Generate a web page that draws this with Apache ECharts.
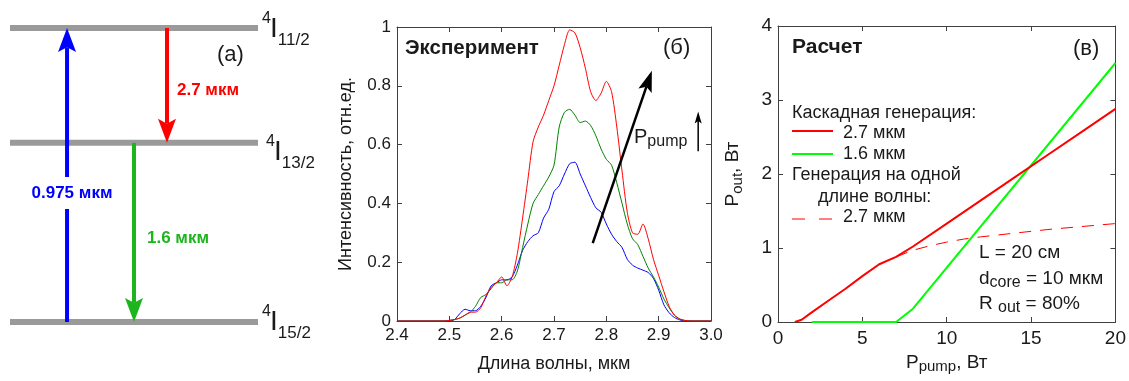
<!DOCTYPE html>
<html lang="ru">
<head>
<meta charset="UTF-8">
<title>Каскадная генерация 2.7 / 1.6 мкм</title>
<script src="https://cdn.jsdelivr.net/npm/echarts@6/dist/echarts.min.js"></script>
<style>
  * { margin: 0; padding: 0; }
  body { background: #fff; }
  #chart { width: 1129px; height: 381px; }
</style>
</head>
<body>
<div id="chart"></div>
<script>
// ---- (а) схема уровней, энергия в см^-1 ----
const levelNames = ['11/2', '13/2', '15/2'];
const levelEnergy = [10256, 6250, 0];
const transLabels = ['0.975 мкм', '2.7 мкм', '1.6 мкм'];
const transFrom = [0, 10256, 6250];
const transTo = [10256, 6250, 0];

// ---- (б) эксперимент: спектры ----
const wavelength = [2.40, 2.41, 2.42, 2.43, 2.44, 2.45, 2.46, 2.47, 2.48, 2.49,
  2.50, 2.51, 2.52, 2.53, 2.54, 2.55, 2.56, 2.57, 2.58, 2.59,
  2.60, 2.61, 2.62, 2.63, 2.64, 2.65, 2.66, 2.67, 2.68, 2.69,
  2.70, 2.71, 2.72, 2.73, 2.74, 2.75, 2.76, 2.77, 2.78, 2.79,
  2.80, 2.81, 2.82, 2.83, 2.84, 2.85, 2.86, 2.87, 2.88, 2.89,
  2.90, 2.91, 2.92, 2.93, 2.94, 2.95, 2.96, 2.97, 2.98, 2.99, 3.00];
const specLow = [0, 0, 0, 0, 0, 0, 0, 0, 0, 0,
  0, 0.005, 0.025, 0.04, 0.035, 0.035, 0.05, 0.08, 0.12, 0.13,
  0.14, 0.14, 0.15, 0.19, 0.24, 0.27, 0.29, 0.30, 0.35, 0.38,
  0.44, 0.46, 0.50, 0.535, 0.54, 0.50, 0.46, 0.42, 0.385, 0.37,
  0.33, 0.295, 0.27, 0.25, 0.21, 0.19, 0.18, 0.173, 0.165, 0.145,
  0.105, 0.055, 0.028, 0.012, 0.004, 0, 0, 0, 0, 0, 0];
const specMid = [0, 0, 0, 0, 0, 0, 0, 0, 0, 0,
  0.002, 0.005, 0.01, 0.02, 0.03, 0.05, 0.08, 0.09, 0.11, 0.13,
  0.13, 0.14, 0.14, 0.17, 0.25, 0.33, 0.40, 0.43, 0.46, 0.49,
  0.53, 0.66, 0.71, 0.72, 0.70, 0.675, 0.68, 0.665, 0.63, 0.585,
  0.55, 0.53, 0.47, 0.40, 0.33, 0.28, 0.26, 0.22, 0.18, 0.15,
  0.115, 0.075, 0.045, 0.02, 0.007, 0.002, 0, 0, 0, 0, 0];
const specHigh = [0, 0, 0, 0, 0, 0, 0, 0, 0, 0,
  0.002, 0.005, 0.01, 0.02, 0.03, 0.03, 0.045, 0.085, 0.115, 0.13,
  0.15, 0.12, 0.15, 0.23, 0.35, 0.48, 0.61, 0.66, 0.70, 0.75,
  0.80, 0.87, 0.94, 0.99, 0.98, 0.93, 0.86, 0.78, 0.75, 0.775,
  0.815, 0.78, 0.66, 0.51, 0.37, 0.30, 0.295, 0.33, 0.28, 0.21,
  0.155, 0.10, 0.05, 0.02, 0.007, 0.002, 0, 0, 0, 0, 0];
// стрелки "P_pump растет": [x0, y0, x1, y1]
const pumpArrows = [[2.774, 0.265, 2.887, 0.851], [2.9755, 0.577, 2.9755, 0.713]];

// ---- (в) расчет ----
const pumpCasc27 = [1, 1.4, 2, 3, 4, 5, 6, 7, 8, 10, 12, 14, 16, 18, 20];
const poutCasc27 = [0, 0.03, 0.13, 0.29, 0.45, 0.62, 0.78, 0.88, 1.02, 1.33, 1.64, 1.95, 2.26, 2.57, 2.88];
const pumpCasc16 = [2, 7, 8, 20];
const poutCasc16 = [0, 0, 0.18, 3.5];
const pumpSingle27 = [7, 8, 9, 10, 11, 12, 14, 16, 18, 20];
const poutSingle27 = [0.88, 0.97, 1.03, 1.08, 1.12, 1.15, 1.20, 1.25, 1.29, 1.33];

const FONT = "'Liberation Sans', Arial, sans-serif";
const TXT = '#1a1a1a';
const AX = '#404040';

function pairs(xs, ys) { return xs.map((x, i) => [x, ys[i]]); }

// стрелка через api.coord
function arrowSeries(xi, yi, data, styles) {
  return {
    type: 'custom', xAxisIndex: xi, yAxisIndex: yi, data: data,
    encode: { x: [0, 2], y: [1, 3] }, z: 5, silent: true,
    renderItem: function (params, api) {
      const s = styles[params.dataIndex];
      const p0 = api.coord([api.value(0), api.value(1)]);
      const p1 = api.coord([api.value(2), api.value(3)]);
      const dx = p1[0] - p0[0], dy = p1[1] - p0[1];
      const len = Math.sqrt(dx * dx + dy * dy);
      const ux = dx / len, uy = dy / len, nx = -uy, ny = ux;
      const bx = p1[0] - ux * s.head, by = p1[1] - uy * s.head;
      const mx = bx + ux * s.head * 0.2, my = by + uy * s.head * 0.2;
      const w = s.width / 2;
      return { type: 'group', children: [
        { type: 'line', shape: { x1: p0[0], y1: p0[1], x2: mx, y2: my },
          style: { stroke: s.color, lineWidth: s.lw } },
        { type: 'polygon', shape: { points: [[p1[0], p1[1]], [bx + nx * w, by + ny * w], [mx, my], [bx - nx * w, by - ny * w]] },
          style: { fill: s.color } }
      ] };
    }
  };
}

function boxAxes(gi, min, max, interval, fs, margin, fmt, name, nameGap, nameStyle, isX) {
  const base = {
    gridIndex: gi, type: 'value', min: min, max: max, interval: interval,
    axisLine: { show: true, onZero: false, lineStyle: { color: AX, width: 1 } },
    axisTick: { inside: true, length: 5, lineStyle: { color: AX } },
    splitLine: { show: false }
  };
  const main = Object.assign({}, base, {
    position: isX ? 'bottom' : 'left',
    axisLabel: { fontSize: fs, fontFamily: FONT, color: TXT, margin: margin, formatter: fmt },
    name: name, nameLocation: 'middle', nameGap: nameGap,
    nameRotate: isX ? 0 : 90, nameTextStyle: nameStyle
  });
  const mirror = Object.assign({}, base, {
    position: isX ? 'top' : 'right', axisLabel: { show: false }
  });
  return [main, mirror];
}

const subRich = (fs, sfs) => ({
  p: { fontSize: fs, fontFamily: FONT, color: TXT, lineHeight: 24 },
  s: { fontSize: sfs, fontFamily: FONT, color: TXT, lineHeight: 14, verticalAlign: 'bottom' }
});

const xB = boxAxes(1, 2.4, 3.0, 0.1, 17, 6, v => v.toFixed(1), 'Длина волны, мкм', 34,
  { fontSize: 18, fontFamily: FONT, color: TXT }, true);
const yB = boxAxes(1, 0, 1, 0.2, 17, 6, null, 'Интенсивность, отн.ед.', 42,
  { fontSize: 18, fontFamily: FONT, color: TXT }, false);
const xV = boxAxes(2, 0, 20, 5, 19, 7, null, '{p|P}{s|pump}{p|, Вт}', 21,
  { rich: subRich(19, 15) }, true);
const yV = boxAxes(2, 0, 4, 1, 19, 6, null, '{p|P}{s|out}{p|, Вт}', 33,
  { rich: subRich(19, 15) }, false);

// подписи
function txt(x, y, text, size, color) {
  return { type: 'text', x: x, y: y, z: 100, silent: true,
    style: { text: text, fontSize: size, fontFamily: FONT, fill: color || TXT, verticalAlign: 'middle' } };
}
function bold(x, y, text, size, color) {
  const t = txt(x, y, text, size, color);
  t.style.fontWeight = 'bold';
  return t;
}
function rich(x, y, text, richStyle) {
  return { type: 'text', x: x, y: y, z: 100, silent: true,
    style: { text: text, rich: richStyle, verticalAlign: 'middle' } };
}
const levelRich = {
  big: { fontSize: 28, fontFamily: FONT, fill: TXT, lineHeight: 40 },
  sub: { fontSize: 17, fontFamily: FONT, fill: TXT, lineHeight: 18, verticalAlign: 'bottom' }
};
const annRich = {
  n: { fontSize: 19, fontFamily: FONT, fill: TXT, lineHeight: 24 },
  s: { fontSize: 16, fontFamily: FONT, fill: TXT, lineHeight: 14, verticalAlign: 'bottom' }
};
const pRich = {
  n: { fontSize: 20, fontFamily: FONT, fill: TXT, lineHeight: 26 },
  s: { fontSize: 16, fontFamily: FONT, fill: TXT, lineHeight: 14, verticalAlign: 'bottom' }
};

// [x, y центра "I"]
const levelLabelPos = [[262, 27], [266, 150], [262, 320]];
const transColors = ['#0000ff', '#ff0000', '#1db51d'];
const transX = [0.23, 0.633, 0.5];

const blueLabel = bold(72, 193, transLabels[0], 17, transColors[0]);
blueLabel.style.align = 'center';
blueLabel.style.backgroundColor = '#fff';
blueLabel.style.padding = [9, 2, 6, 2];

const graphics = [
  // (а)
  txt(217, 55, '(a)', 22),
  bold(177, 90, transLabels[1], 17, transColors[1]),
  blueLabel,
  bold(147, 238, transLabels[2], 17, transColors[2]),
  // (б)
  bold(405, 48, 'Эксперимент', 20.5),
  txt(663, 48, '(б)', 22),
  rich(634, 137, '{n|P}{s|pump}', pRich),
  // (в)
  bold(792, 47, 'Расчет', 21),
  txt(1073, 49, '(в)', 22),
  txt(792, 113, 'Каскадная генерация:', 18),
  { type: 'line', z: 100, shape: { x1: 792, y1: 131, x2: 833, y2: 131 }, style: { stroke: '#ff0000', lineWidth: 2 } },
  txt(843, 133, '2.7 мкм', 18),
  { type: 'line', z: 100, shape: { x1: 792, y1: 154, x2: 833, y2: 154 }, style: { stroke: '#00ff00', lineWidth: 2 } },
  txt(843, 154, '1.6 мкм', 18),
  txt(792, 175, 'Генерация на одной', 18),
  txt(818, 197, 'длине волны:', 18),
  { type: 'line', z: 100, shape: { x1: 792, y1: 219, x2: 833, y2: 219 }, style: { stroke: '#ff0000', lineWidth: 1, lineDash: [13, 14] } },
  txt(843, 217, '2.7 мкм', 18),
  txt(979, 253, 'L = 20 см', 19),
  rich(979, 279, '{n|d}{s|core}{n| = 10 мкм}', annRich),
  rich(979, 304, '{n|R }{s|out}{n| = 80%}', annRich)
];

levelNames.forEach((n, i) => {
  const [x, y] = levelLabelPos[i];
  graphics.push(txt(x, y - 8, '4', 16));
  graphics.push(rich(x + 8, y + 2, '{big|I}{sub|' + n + '}', levelRich));
});

const series = [];
levelEnergy.forEach(e => {
  series.push({ type: 'line', xAxisIndex: 0, yAxisIndex: 0, data: [[0, e], [1, e]],
    showSymbol: false, silent: true, z: 1,
    lineStyle: { color: '#9a9a9a', width: 6, cap: 'butt' } });
});
series.push(arrowSeries(0, 0,
  transFrom.map((f, i) => [transX[i], f, transX[i], transTo[i]]),
  transColors.map(c => ({ color: c, lw: 4, head: 24, width: 18 }))));

[[specLow, '#0000ff'], [specMid, '#008000'], [specHigh, '#ff0000']].forEach(([d, c]) => {
  series.push({ type: 'line', xAxisIndex: 1, yAxisIndex: 1, data: pairs(wavelength, d),
    showSymbol: false, silent: true, smooth: 0.25, lineStyle: { color: c, width: 1 } });
});
series.push(arrowSeries(1, 1, pumpArrows, [
  { color: '#000', lw: 2.5, head: 21, width: 14 },
  { color: '#000', lw: 1.5, head: 12, width: 7 }
]));

series.push({ type: 'line', xAxisIndex: 3, yAxisIndex: 3, data: pairs(pumpSingle27, poutSingle27),
  showSymbol: false, silent: true, lineStyle: { color: '#ff0000', width: 1, type: [12, 9] } });
series.push({ type: 'line', xAxisIndex: 3, yAxisIndex: 3, data: pairs(pumpCasc16, poutCasc16),
  showSymbol: false, silent: true, lineStyle: { color: '#00ff00', width: 2 } });
series.push({ type: 'line', xAxisIndex: 3, yAxisIndex: 3, data: pairs(pumpCasc27, poutCasc27),
  showSymbol: false, silent: true, lineStyle: { color: '#ff0000', width: 2 } });

const chart = echarts.init(document.getElementById('chart'), null, { renderer: 'canvas' });
chart.setOption({
  backgroundColor: '#fff',
  animation: false,
  grid: [
    { left: 10, top: 28, width: 248, height: 294 },
    { left: 397, top: 27, width: 314, height: 294 },
    { left: 778, top: 26, width: 338, height: 296 }
  ],
  xAxis: [{ gridIndex: 0, type: 'value', min: 0, max: 1, show: false }].concat(xB, xV),
  yAxis: [{ gridIndex: 0, type: 'value', min: 0, max: 10256, show: false }].concat(yB, yV),
  series: series,
  graphic: graphics
});
</script>
</body>
</html>
